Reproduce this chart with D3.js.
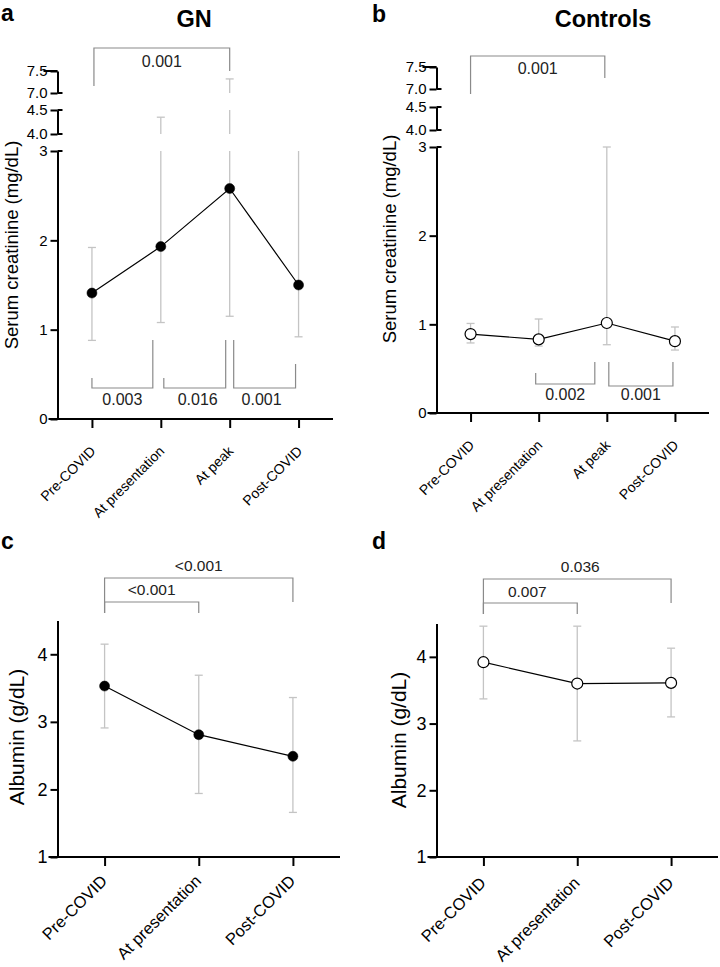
<!DOCTYPE html>
<html><head><meta charset="utf-8">
<script src="https://cdn.jsdelivr.net/npm/d3@7"></script>
<style>
body{margin:0;background:#fff}
svg{display:block}
text{font-family:"Liberation Sans",Arial,Helvetica,sans-serif}
</style>
</head><body>
<svg id="fig" width="720" height="967"></svg>
<script>
// ---------- DATA ----------
const creatCats = ["Pre-COVID", "At presentation", "At peak", "Post-COVID"];
const albCats = ["Pre-COVID", "At presentation", "Post-COVID"];

const gnCreatMean = [1.41, 1.93, 2.58, 1.50];
const gnCreatLow  = [0.88, 1.08, 1.15, 0.92];
const gnCreatHigh = [1.92, 4.35, 7.32, 3.50];

const ctrlCreatMean = [0.89, 0.83, 1.015, 0.81];
const ctrlCreatLow  = [0.79, 0.755, 0.77, 0.71];
const ctrlCreatHigh = [1.01, 1.06, 3.00, 0.97];

const gnAlbMean = [3.53, 2.81, 2.49];
const gnAlbLow  = [2.91, 1.94, 1.66];
const gnAlbHigh = [4.15, 3.69, 3.36];

const ctrlAlbMean = [3.92, 3.60, 3.61];
const ctrlAlbLow  = [3.37, 2.74, 3.10];
const ctrlAlbHigh = [4.46, 4.46, 4.13];

const creatSegments = [[0, 3], [4, 4.5], [7, 7.5]];
const creatTicks = [[0, 1, 2, 3], [4.0, 4.5], [7.0, 7.5]];
const creatTickLabels = [["0", "1", "2", "3"], ["4.0", "4.5"], ["7.0", "7.5"]];
const albDomain = [1, 4.5];
const albTicks = [1, 2, 3, 4];

// comparisons: [from index, to index, p label]
const gnCreatComps = [[0, 2, "0.001"], [0, 1, "0.003"], [1, 2, "0.016"], [2, 3, "0.001"]];
const ctrlCreatComps = [[0, 2, "0.001"], [1, 2, "0.002"], [2, 3, "0.001"]];
const gnAlbComps = [[0, 2, "<0.001"], [0, 1, "<0.001"]];
const ctrlAlbComps = [[0, 2, "0.036"], [0, 1, "0.007"]];

// ---------- DRAWING ----------
const svg = d3.select("#fig");

function drawPanel(o) {
  const g = svg.append("g");
  const x = d3.scalePoint().domain(o.cats).range([o.ax, o.x1]).padding(0.5);
  const segs = o.segments.map((d, k) => ({
    dom: d,
    sc: d3.scaleLinear().domain(d).range(o.ranges[k]),
    ticks: o.ticks[k],
    labels: o.tickLabels[k]
  }));
  const yOf = v => {
    const s = segs.find(s => v >= s.dom[0] - 1e-9 && v <= s.dom[1] + 1e-9);
    return s ? s.sc(v) : null;
  };
  const baseY = segs[0].sc(segs[0].dom[0]);

  // error bars
  const ebColor = "#c4c4c4";
  o.means.forEach((m, i) => {
    const cx = x(o.cats[i]);
    segs.forEach(s => {
      const lo = Math.max(o.lows[i], s.dom[0]), hi = Math.min(o.highs[i], s.dom[1]);
      if (hi > lo) {
        g.append("line").attr("x1", cx).attr("x2", cx)
          .attr("y1", s.sc(lo)).attr("y2", s.sc(hi))
          .attr("stroke", ebColor).attr("stroke-width", 1.3);
      }
    });
    [o.lows[i], o.highs[i]].forEach(v => {
      const yy = yOf(v);
      if (yy != null) {
        g.append("line").attr("x1", cx - 4).attr("x2", cx + 4)
          .attr("y1", yy).attr("y2", yy)
          .attr("stroke", ebColor).attr("stroke-width", 1.3);
      }
    });
  });

  // connecting line
  g.append("path").datum(o.means)
    .attr("d", d3.line().x((d, i) => x(o.cats[i])).y(d => yOf(d)))
    .attr("fill", "none").attr("stroke", "#000").attr("stroke-width", 1.2);

  // markers
  g.selectAll("circle.pt").data(o.means).join("circle")
    .attr("cx", (d, i) => x(o.cats[i])).attr("cy", d => yOf(d))
    .attr("r", o.open ? 5.5 : 5)
    .attr("fill", o.open ? "#fff" : "#000")
    .attr("stroke", "#000").attr("stroke-width", o.open ? 1.2 : 0.5);

  // y axis segments
  segs.forEach((s, k) => {
    const ax = d3.axisLeft(s.sc).tickValues(s.ticks)
      .tickFormat((d, j) => s.labels[j]).tickSize(7).tickSizeOuter(0).tickPadding(3);
    const ag = g.append("g").attr("transform", `translate(${o.ax},0)`).call(ax);
    ag.select(".domain").attr("stroke-width", 2);
    ag.selectAll(".tick line").attr("stroke-width", 2);
    ag.selectAll("text").attr("font-size", o.tickFont).attr("fill", "#000")
      .style("font-family", '"Liberation Sans",Arial,sans-serif');
    if (segs.length > 1) {
      // segment end caps (GraphPad style)
      const ends = k === 0 ? [s.dom[1]] : (k === segs.length - 1 ? [s.dom[0]] : s.dom);
      ends.forEach(v => {
        g.append("line").attr("x1", o.ax).attr("x2", o.ax + 5)
          .attr("y1", s.sc(v)).attr("y2", s.sc(v))
          .attr("stroke", "#000").attr("stroke-width", 2);
      });
      if (k === segs.length - 1 && k > 0) {
        const yt = s.sc(s.dom[1]);
        g.append("line").attr("x1", o.ax - 14).attr("x2", o.ax)
          .attr("y1", yt).attr("y2", yt)
          .attr("stroke", "#000").attr("stroke-width", 2);
      }
    }
  });

  // x axis
  const xa = d3.axisBottom(x).tickSize(9).tickSizeOuter(0);
  const xg = g.append("g").attr("transform", `translate(0,${baseY})`).call(xa);
  xg.select(".domain").remove();
  xg.selectAll(".tick line").attr("stroke-width", 2);
  xg.selectAll("text")
    .attr("x", null).attr("y", null).attr("dy", null)
    .attr("text-anchor", "end")
    .attr("transform", `translate(${o.labDx},${o.labDy}) rotate(-45)`)
    .attr("font-size", o.xFont).attr("fill", "#000")
    .style("font-family", '"Liberation Sans",Arial,sans-serif');
  g.append("line").attr("x1", o.ax - 9).attr("x2", o.x1)
    .attr("y1", baseY).attr("y2", baseY)
    .attr("stroke", "#000").attr("stroke-width", 2);

  // brackets
  const bc = "#8a8a8a";
  o.comps.forEach((c, k) => {
    const L = o.brackets[k];
    const xl = x(o.cats[c[0]]) + L.dl, xr = x(o.cats[c[1]]) + L.dr;
    g.append("path")
      .attr("d", `M${xl},${L.legL}V${L.y}H${xr}V${L.legR}`)
      .attr("fill", "none").attr("stroke", bc).attr("stroke-width", 1.2);
    g.append("text").attr("x", (xl + xr) / 2 + (L.tx || 0)).attr("y", L.ty)
      .attr("text-anchor", "middle").attr("font-size", o.pFont).attr("fill", "#222")
      .text(c[2]);
  });

  // y title
  g.append("text")
    .attr("transform", `translate(${o.titleX},${o.titleY}) rotate(-90)`)
    .attr("text-anchor", "middle").attr("dominant-baseline", "central")
    .attr("font-size", o.titleFont).attr("fill", "#000").text(o.yTitle);

  // panel letter
  g.append("text").attr("x", o.letterX).attr("y", o.letterY)
    .attr("font-size", 23).attr("font-weight", "bold").text(o.letter);

  if (o.head) {
    g.append("text").attr("x", o.headX).attr("y", 27).attr("text-anchor", "middle")
      .attr("font-size", 23.5).attr("font-weight", "bold").text(o.head);
  }
}

drawPanel({
  cats: creatCats, means: gnCreatMean, lows: gnCreatLow, highs: gnCreatHigh, open: false,
  ax: 57.5, x1: 333,
  segments: creatSegments, ticks: creatTicks, tickLabels: creatTickLabels,
  ranges: [[419, 151], [134, 110], [93, 71]],
  tickFont: 15, xFont: 14, labDx: 4, labDy: 33, pFont: 16,
  comps: gnCreatComps,
  brackets: [
    {dl: 2, dr: 0, y: 48, legL: 86, legR: 71, ty: 67},
    {dl: 0, dr: -8, y: 388, legL: 378, legR: 340, ty: 405},
    {dl: 3, dr: -4, y: 388, legL: 378, legR: 340, ty: 405, tx: 3},
    {dl: 4, dr: -3, y: 388, legL: 340, legR: 364, ty: 405, tx: -3}
  ],
  yTitle: "Serum creatinine (mg/dL)", titleX: 11, titleY: 245, titleFont: 18.5,
  letter: "a", letterX: 1, letterY: 21, head: "GN", headX: 194
});

drawPanel({
  cats: creatCats, means: ctrlCreatMean, lows: ctrlCreatLow, highs: ctrlCreatHigh, open: true,
  ax: 436.5, x1: 709,
  segments: creatSegments, ticks: creatTicks, tickLabels: creatTickLabels,
  ranges: [[413, 147], [130, 107], [89, 67]],
  tickFont: 15, xFont: 14, labDx: 4, labDy: 33, pFont: 16,
  comps: ctrlCreatComps,
  brackets: [
    {dl: 0, dr: -2, y: 56, legL: 94, legR: 78, ty: 74},
    {dl: -3, dr: -12, y: 384, legL: 373, legR: 362, ty: 400},
    {dl: 2, dr: -2, y: 386, legL: 362, legR: 362, ty: 400}
  ],
  yTitle: "Serum creatinine (mg/dL)", titleX: 389, titleY: 239, titleFont: 18.5,
  letter: "b", letterX: 372, letterY: 22, head: "Controls", headX: 603
});

drawPanel({
  cats: albCats, means: gnAlbMean, lows: gnAlbLow, highs: gnAlbHigh, open: false,
  ax: 57.5, x1: 340,
  segments: [albDomain], ticks: [albTicks], tickLabels: [albTicks.map(String)],
  ranges: [[857, 620.5]],
  tickFont: 18, xFont: 16.5, labDx: 3, labDy: 25, pFont: 15.5,
  comps: gnAlbComps,
  brackets: [
    {dl: 0, dr: 0, y: 578, legL: 613, legR: 602, ty: 571},
    {dl: 0, dr: 0, y: 602, legL: 613, legR: 613, ty: 595}
  ],
  yTitle: "Albumin (g/dL)", titleX: 16, titleY: 737, titleFont: 21,
  letter: "c", letterX: 1, letterY: 549
});

drawPanel({
  cats: albCats, means: ctrlAlbMean, lows: ctrlAlbLow, highs: ctrlAlbHigh, open: true,
  ax: 436.5, x1: 718,
  segments: [albDomain], ticks: [albTicks], tickLabels: [albTicks.map(String)],
  ranges: [[857, 623.5]],
  tickFont: 18, xFont: 16.5, labDx: 3, labDy: 27, pFont: 15.5,
  comps: ctrlAlbComps,
  brackets: [
    {dl: 0, dr: 0, y: 579, legL: 614, legR: 603, ty: 572, tx: 3},
    {dl: 0, dr: 0, y: 603, legL: 614, legR: 614, ty: 597, tx: -3}
  ],
  yTitle: "Albumin (g/dL)", titleX: 398, titleY: 740, titleFont: 21,
  letter: "d", letterX: 372, letterY: 549
});
</script>
</body></html>
